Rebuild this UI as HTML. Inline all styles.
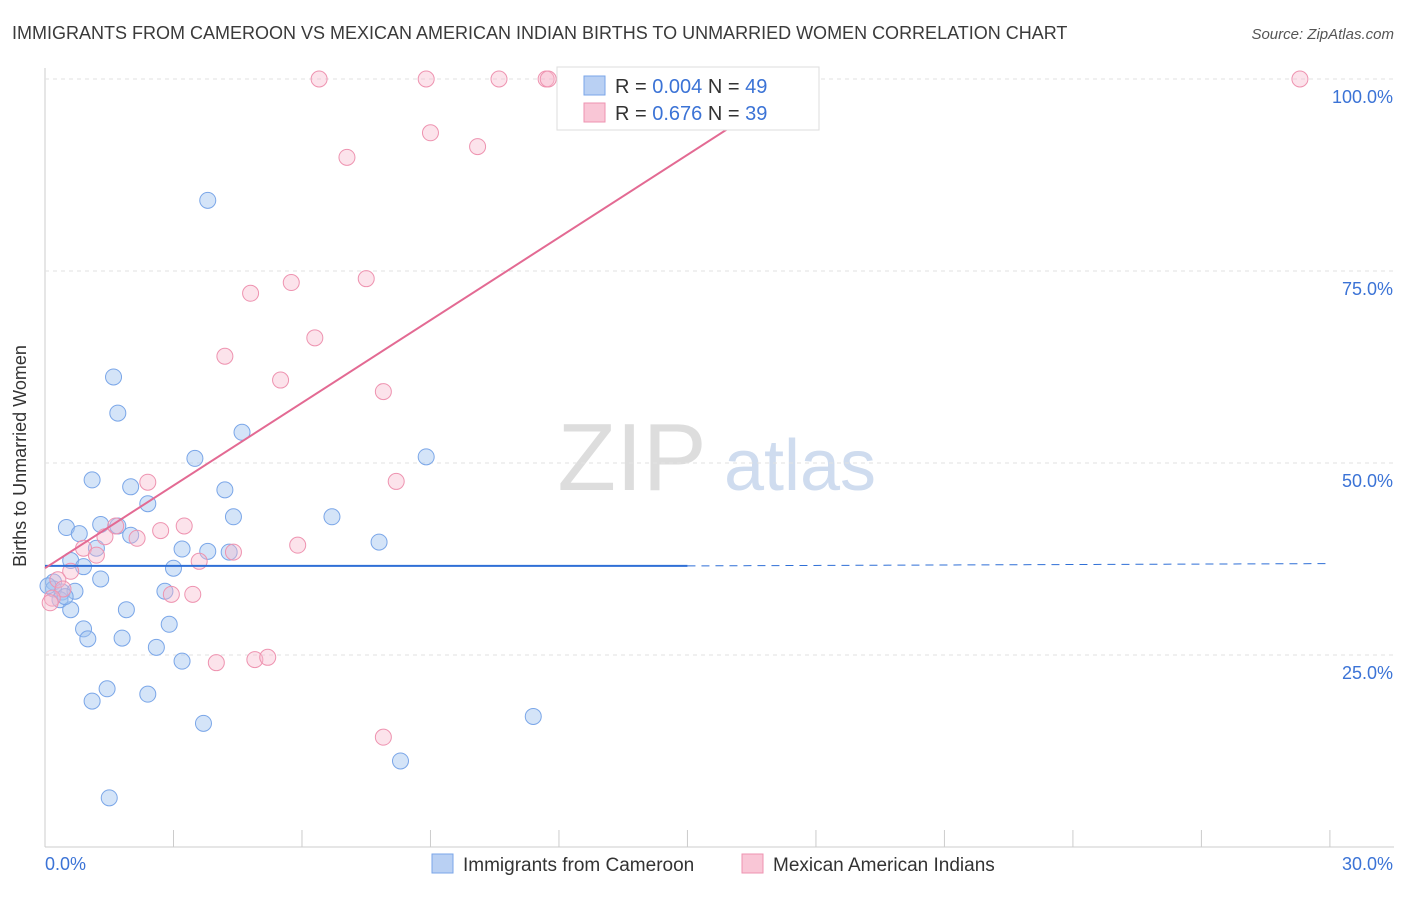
<!DOCTYPE html>
<html><head><meta charset="utf-8"><style>
body{margin:0;background:#fff;font-family:"Liberation Sans",sans-serif}
svg text{font-family:"Liberation Sans",sans-serif}
</style></head><body>
<svg id="c" width="1406" height="892">
<text x="12" y="39" font-size="18" fill="#3a3a3a">IMMIGRANTS FROM CAMEROON VS MEXICAN AMERICAN INDIAN BIRTHS TO UNMARRIED WOMEN CORRELATION CHART</text>
<text x="1394" y="39" font-size="15" fill="#555" text-anchor="end" font-style="italic">Source: ZipAtlas.com</text>
<text x="26" y="456" font-size="18" fill="#333" text-anchor="middle" transform="rotate(-90 26 456)">Births to Unmarried Women</text>
<text x="632" y="490" font-size="96" fill="#ddd" font-family="Liberation Serif" text-anchor="middle">ZIP</text>
<text x="800" y="490" font-size="72" fill="#cfdcef" text-anchor="middle">atlas</text>
<g id="grid"></g><g id="pts"></g><g id="lines"></g>
<g>
<rect x="557" y="67" width="262" height="63" fill="#fff" stroke="#ddd"/>
<rect x="584" y="76" width="21" height="19" fill="#b9d0f3" stroke="#7aa6e8"/>
<rect x="584" y="103" width="21" height="19" fill="#f9c6d6" stroke="#ee93b0"/>
<text x="615" y="93" font-size="20" fill="#333">R = <tspan fill="#3b73d6">0.004</tspan>   N = <tspan fill="#3b73d6">49</tspan></text>
<text x="615" y="120" font-size="20" fill="#333">R =  <tspan fill="#3b73d6">0.676</tspan>   N = <tspan fill="#3b73d6">39</tspan></text>
</g>
<g>
<rect x="432" y="854" width="21" height="19" fill="#b9d0f3" stroke="#7aa6e8"/>
<text x="463" y="871" font-size="19" fill="#333">Immigrants from Cameroon</text>
<rect x="742" y="854" width="21" height="19" fill="#f9c6d6" stroke="#ee93b0"/>
<text x="773" y="871" font-size="19" fill="#333">Mexican American Indians</text>
</g>
</svg>
<script>
const blueX=[3.8,1.6,1.7,4.6,3.5,8.9,1.1,2.0,4.2,2.4,4.4,6.7,0.5,1.3,1.7,0.8,2.0,1.2,3.2,3.8,4.3,7.8,0.6,0.9,3.0,1.3,0.2,0.2,0.4,0.7,2.8,0.35,0.6,1.9,2.9,0.9,1.0,1.8,2.6,3.2,1.45,2.4,1.1,3.7,11.4,8.3,1.5,0.07,0.47];
const blueY=[84.2,61.2,56.5,54.0,50.6,50.8,47.8,46.9,46.5,44.7,43.0,43.0,41.6,42.0,41.8,40.8,40.6,38.9,38.8,38.5,38.4,39.7,37.3,36.5,36.3,34.9,34.5,33.6,33.2,33.3,33.3,32.2,30.9,30.9,29.0,28.4,27.1,27.2,26.0,24.2,20.6,19.9,19.0,16.1,17.0,11.2,6.4,34.0,32.6];
const pinkX=[6.4,8.9,10.6,11.7,11.75,29.3,9.0,10.1,7.05,7.5,5.75,4.8,6.3,4.2,5.5,7.9,2.4,8.2,3.25,1.65,2.7,1.4,2.15,5.9,0.9,1.2,4.4,3.6,0.6,0.3,0.42,2.95,3.45,0.17,0.12,4.0,4.9,5.2,7.9];
const pinkY=[100,100,100,100,100,100,93.0,91.2,89.8,74.0,73.5,72.1,66.3,63.9,60.8,59.3,47.5,47.6,41.8,41.8,41.2,40.4,40.2,39.3,38.9,38.0,38.4,37.2,35.9,34.8,33.6,32.9,32.9,32.4,31.8,24.0,24.4,24.7,14.3];
const yTicks=[25,50,75,100];
const blueTrend=[36.6,36.6];
const pinkTrend=[36.3,100];
const X=v=>45+v*42.83, Y=v=>847-v*7.68;
const NS="http://www.w3.org/2000/svg";
function mk(t,a,p){const e=document.createElementNS(NS,t);for(const k in a)e.setAttribute(k,a[k]);p.appendChild(e);return e;}
const grid=document.getElementById('grid');
mk('line',{x1:45,y1:68,x2:45,y2:847,stroke:'#ccc'},grid);
mk('line',{x1:45,y1:847,x2:1394,y2:847,stroke:'#ccc'},grid);
for(let i=0;i<=10;i++){const l=mk('line',{x1:X(i*3),y1:830,x2:X(i*3),y2:847,stroke:'#ccc'},grid);}
yTicks.forEach(v=>{
const l=mk('line',{x1:45,y1:Y(v),x2:1394,y2:Y(v),stroke:'#e2e2e2','stroke-dasharray':'4 4'},grid);


const t=mk('text',{x:1393,y:Y(v)+24,'font-size':18,fill:'#3b73d6','text-anchor':'end'},grid);
t.textContent=v.toFixed(1)+'%';


});
let t0=mk('text',{x:45,y:870,'font-size':18,fill:'#3b73d6'},grid);t0.textContent='0.0%';


let t1=mk('text',{x:1393,y:870,'font-size':18,fill:'#3b73d6','text-anchor':'end'},grid);t1.textContent='30.0%';


const pts=document.getElementById('pts');
blueX.forEach((x,i)=>{const c=mk('circle',{cx:X(x),cy:Y(blueY[i]),r:8,fill:'rgba(160,195,240,0.45)',stroke:'#7aa6e8','stroke-width':1},pts);

});
pinkX.forEach((x,i)=>{const c=mk('circle',{cx:X(x),cy:Y(pinkY[i]),r:8,fill:'rgba(248,185,205,0.4)',stroke:'#ee93b0','stroke-width':1},pts);

});
const lines=document.getElementById('lines');
let b=mk('line',{x1:X(0),y1:Y(blueTrend[0]),x2:X(15),y2:Y(blueTrend[1]),stroke:'#2f6fd6','stroke-width':2},lines);


let bd=mk('line',{x1:X(15),y1:Y(blueTrend[1]),x2:X(30),y2:Y(blueTrend[1]+0.3),stroke:'#2f6fd6','stroke-width':1,'stroke-dasharray':'8 6'},lines);


let p=mk('line',{x1:X(0),y1:Y(pinkTrend[0]),x2:X(17.75),y2:Y(pinkTrend[1]),stroke:'#e36a93','stroke-width':2},lines);


</script>
</body></html>
